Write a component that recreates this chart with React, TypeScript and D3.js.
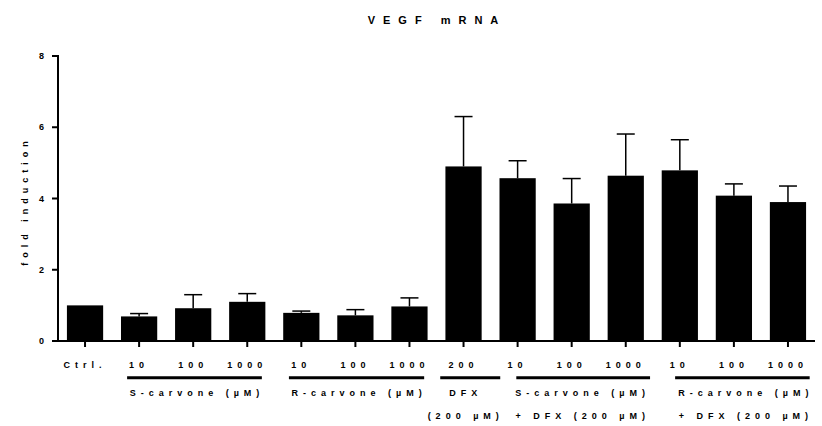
import React from "react";
import * as d3 from "d3";

const categories = ["Ctrl", "S10", "S100", "S1000", "R10", "R100", "R1000", "DFX200", "SD10", "SD100", "SD1000", "RD10", "RD100", "RD1000"];
const tickLabels = ["Ctrl.", "10", "100", "1000", "10", "100", "1000", "200", "10", "100", "1000", "10", "100", "1000"];
const means = [1.0, 0.69, 0.92, 1.1, 0.79, 0.72, 0.97, 4.9, 4.57, 3.86, 4.64, 4.79, 4.08, 3.9];
const errors = [0, 0.08, 0.38, 0.23, 0.05, 0.16, 0.24, 1.4, 0.49, 0.7, 1.17, 0.86, 0.33, 0.45];
const yTicks = [0, 2, 4, 6, 8];
const groupFrom = [1, 4, 7, 8, 11];
const groupTo = [3, 6, 7, 10, 13];
const groupLabels = [
  ["S-carvone (µM)"],
  ["R-carvone (µM)"],
  ["DFX", "(200 µM)"],
  ["S-carvone (µM)", "+ DFX (200 µM)"],
  ["R-carvone (µM)", "+ DFX (200 µM)"],
];
const title = "VEGF mRNA";
const yLabel = "fold induction";

// layout (pixel offsets)
const lineOffsets = [[-12, 14.6], [-12.4, 14.7], [-23.3, 36.7], [-1.3, 24.3], [-4.7, 21.7]];
const labelShift = [0, 0, -7, -3, 1];

const FONT = "'Liberation Sans', Arial, sans-serif";
const LS = 5;

export default function App() {
  const W = 822, H = 426;
  const x0 = 58, x1 = 815, yTop = 56, yBot = 341;
  const x = d3.scaleBand<string>().domain(categories).range([x0, x1]).paddingInner(0.33).paddingOuter(0.165);
  const y = d3.scaleLinear().domain([0, 8]).range([yBot, yTop]);
  const cx = (i: number) => (x(categories[i]) as number) + x.bandwidth() / 2;
  const capW = 18;

  return (
    <svg width={W} height={H} style={{ position: "absolute", left: 0, top: 0, background: "#fff" }} fontFamily={FONT} fontWeight="bold">
      <text x={433 + 4} y={24} fontSize={11} textAnchor="middle" letterSpacing={8} fill="#000">{title}</text>
      <text transform={`translate(${28},${(yTop + yBot) / 2 + LS / 2}) rotate(-90)`} fontSize={9} textAnchor="middle" letterSpacing={LS} fill="#000">{yLabel}</text>
      {/* bars */}
      {means.map((m, i) => (
        <rect key={"b" + i} x={x(categories[i])} y={y(m)} width={x.bandwidth()} height={yBot - y(m)} fill="#000" />
      ))}
      {/* error bars */}
      {means.map((m, i) => errors[i] > 0 ? (
        <g key={"e" + i} stroke="#000" strokeWidth={1.5}>
          <line x1={cx(i)} x2={cx(i)} y1={y(m)} y2={y(m + errors[i])} />
          <line x1={cx(i) - capW / 2} x2={cx(i) + capW / 2} y1={y(m + errors[i])} y2={y(m + errors[i])} />
        </g>
      ) : null)}
      {/* y axis */}
      <line x1={x0} x2={x0} y1={yTop - 1} y2={yBot + 1} stroke="#000" strokeWidth={2} />
      {yTicks.map((t) => (
        <g key={"yt" + t}>
          <line x1={x0 - 6} x2={x0} y1={y(t)} y2={y(t)} stroke="#000" strokeWidth={2} />
          <text x={44} y={y(t) + 3.2} fontSize={9} textAnchor="end" fill="#000">{t}</text>
        </g>
      ))}
      {/* x axis */}
      <line x1={x0 - 1} x2={x1} y1={yBot} y2={yBot} stroke="#000" strokeWidth={2} />
      {categories.map((c, i) => (
        <g key={"xt" + i}>
          <line x1={cx(i)} x2={cx(i)} y1={yBot} y2={yBot + 6} stroke="#000" strokeWidth={2} />
          <text x={cx(i)} y={368} fontSize={9} textAnchor="middle" letterSpacing={LS} fill="#000">{tickLabels[i]}</text>
        </g>
      ))}
      {/* groups */}
      {groupFrom.map((f, g) => {
        const lx1 = cx(f) + lineOffsets[g][0];
        const lx2 = cx(groupTo[g]) + lineOffsets[g][1];
        const mid = (lx1 + lx2) / 2 + labelShift[g] + LS / 2;
        return (
          <g key={"g" + g}>
            <line x1={lx1} x2={lx2} y1={377.7} y2={377.7} stroke="#000" strokeWidth={3} />
            {groupLabels[g].map((s, k) => (
              <text key={k} x={mid} y={396 + k * 22.5} fontSize={9} textAnchor="middle" letterSpacing={LS} fill="#000">{s}</text>
            ))}
          </g>
        );
      })}
    </svg>
  );
}
